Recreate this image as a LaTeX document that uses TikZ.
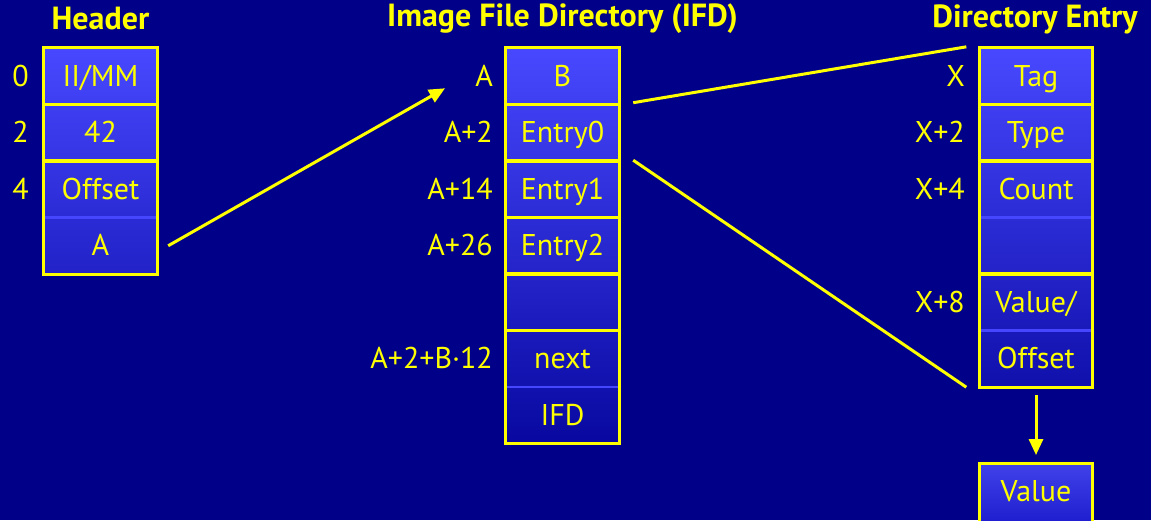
\documentclass[tikz,border=0pt]{standalone}
\usepackage{fontspec}
\setmainfont{PT Sans}
\usetikzlibrary{arrows.meta}
\definecolor{bg}{RGB}{0,0,136}
\definecolor{yel}{RGB}{255,255,0}
\definecolor{ctop}{RGB}{72,72,255}
\definecolor{cbot}{RGB}{8,8,160}
\definecolor{chdr}{RGB}{34,34,200}
\definecolor{cdir}{RGB}{16,16,172}
\definecolor{cval}{RGB}{28,28,205}
\definecolor{sep}{RGB}{70,70,255}
\begin{document}
\begin{tikzpicture}[x=1pt,y=-1pt,
  every node/.style={text=yel,font=\fontsize{30}{34}\selectfont},
  cell/.style={minimum width=113pt,minimum height=56.5pt,inner sep=0pt,text height=20pt,text depth=0pt},
  lab/.style={anchor=east,inner sep=0pt,text height=20pt,text depth=0pt},
  ttl/.style={font=\fontsize{32}{36}\selectfont\bfseries,inner sep=0pt},
  ybox/.style={draw=yel,line width=3pt},
  sepline/.style={draw=sep,line width=2.5pt},
  conn/.style={draw=yel,line width=3pt},
  tip/.style={-{Triangle[length=16pt,width=14pt]}}]
\useasboundingbox[fill=bg] (0,0) rectangle (1151,520);
\clip (0,0) rectangle (1151,520);
% column shadings
\shade[top color=ctop,bottom color=chdr] (44,48) rectangle (157,274);
\shade[top color=ctop,bottom color=cbot] (506,48) rectangle (619,444);
\shade[top color=ctop,bottom color=cdir] (979,48) rectangle (1093,388);
\shade[top color=ctop!92!black,bottom color=cval] (979,463) rectangle (1093,526);
% titles
\node[ttl] (tH) at (100.5,19) {Header};
\node[ttl] (tI) at (562.5,19) {Image File Directory (IFD)};
\node[ttl] (tD) at (1035,19) {Directory Entry};
% header cells
\node[cell] (h0) at (100.5,76.25) {II/MM};
\node[cell] (h1) at (100.5,132.75) {42};
\node[cell] (h2) at (100.5,189.25) {Offset};
\node[cell] (h3) at (100.5,245.75) {A};
\node[lab] (lh0) at (29,76.25) {0};
\node[lab] (lh1) at (29,132.75) {2};
\node[lab] (lh2) at (29,189.25) {4};
% IFD cells
\node[cell] (i0) at (562.5,76.25) {B};
\node[cell] (i1) at (562.5,132.75) {Entry0};
\node[cell] (i2) at (562.5,189.25) {Entry1};
\node[cell] (i3) at (562.5,245.75) {Entry2};
\node[cell] (i4) at (562.5,302.25) {};
\node[cell] (i5) at (562.5,358.75) {next};
\node[cell] (i6) at (562.5,415.25) {IFD};
\node[lab] (li0) at (493,76.25) {A};
\node[lab] (li1) at (493,132.75) {A+2};
\node[lab] (li2) at (493,189.25) {A+14};
\node[lab] (li3) at (493,245.75) {A+26};
\node[lab] (li5) at (493,358.75) {A+2+B·12};
% directory entry cells
\node[cell] (d0) at (1036,76.25) {Tag};
\node[cell] (d1) at (1036,132.75) {Type};
\node[cell] (d2) at (1036,189.25) {Count};
\node[cell] (d3) at (1036,245.75) {};
\node[cell] (d4) at (1036,302.25) {Value/};
\node[cell] (d5) at (1036,358.75) {Offset};
\node[cell] (v) at (1036,491.5) {Value};
\node[lab] (ld0) at (965,76.25) {X};
\node[lab] (ld1) at (965,132.75) {X+2};
\node[lab] (ld2) at (965,189.25) {X+4};
\node[lab] (ld4) at (965,302.25) {X+8};
% separators
\draw[sepline] (h2.south west) -- (h2.south east);
\draw[sepline] (i5.south west) -- (i5.south east);
\draw[sepline] (d2.south west) -- (d2.south east);
\draw[sepline] (d4.south west) -- (d4.south east);
% yellow boxes
\draw[ybox] (h0.north west) rectangle (h0.south east);
\draw[ybox] (h1.north west) rectangle (h1.south east);
\draw[ybox] (h2.north west) rectangle (h3.south east);
\foreach \n in {i0,i1,i2,i3,i4}{\draw[ybox] (\n.north west) rectangle (\n.south east);}
\draw[ybox] (i5.north west) rectangle (i6.south east);
\draw[ybox] (d0.north west) rectangle (d0.south east);
\draw[ybox] (d1.north west) rectangle (d1.south east);
\draw[ybox] (d2.north west) rectangle (d3.south east);
\draw[ybox] (d4.north west) rectangle (d5.south east);
\draw[ybox] (v.north west) rectangle ([yshift=-10pt]v.south east);
% connectors
\coordinate (a1) at ([xshift=11pt]h3.east);
\coordinate (a2) at ([xshift=-30pt,yshift=-12pt]li0.west);
\draw[conn,tip] (a1) -- (a2);
\coordinate (b1) at ([xshift=14pt,yshift=2pt]i0.south east);
\coordinate (b2) at ([xshift=-13pt,yshift=1pt]d0.north west);
\draw[conn] (b1) -- (b2);
\coordinate (c1) at ([xshift=14pt,yshift=1pt]i1.south east);
\coordinate (c2) at ([xshift=-13pt]d5.south west);
\draw[conn] (c1) -- (c2);
\coordinate (e1) at ([yshift=-8pt]d5.south);
\coordinate (e2) at ([yshift=8pt]v.north);
\draw[conn,tip] (e1) -- (e2);
\end{tikzpicture}
\end{document}
